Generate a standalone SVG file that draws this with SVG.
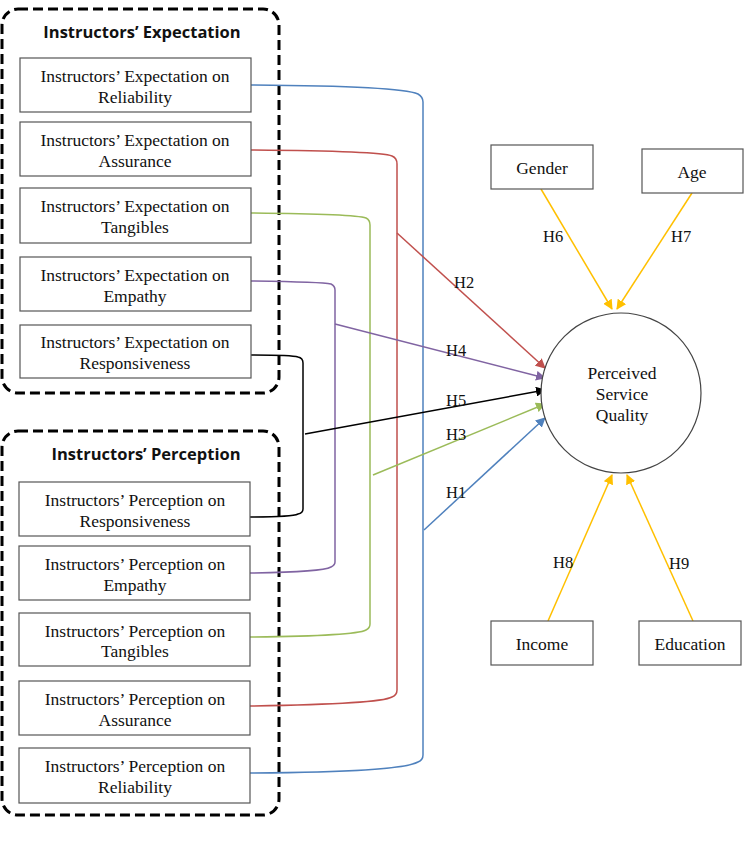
<svg xmlns="http://www.w3.org/2000/svg" width="747" height="846" viewBox="0 0 747 846">
<style>
.grp{fill:none;stroke:#000;stroke-width:3;stroke-dasharray:10 5}
.box{fill:#fff;stroke:#555;stroke-width:1.2}
.t{font-family:"Liberation Serif",serif;font-size:17.5px;fill:#111;text-anchor:middle}
.h{font-family:"Liberation Serif",serif;font-size:16.5px;fill:#111}
.ttl{font-family:"Open Sans","DejaVu Sans",sans-serif;font-weight:bold;font-size:16.5px;fill:#111;text-anchor:middle}
.c{fill:none;stroke-width:1.5}
</style>
<defs>
<marker id="ab" viewBox="0 0 10 10" refX="9" refY="5" markerWidth="10" markerHeight="10" orient="auto" markerUnits="userSpaceOnUse"><path d="M0,0L10,5L0,10z" fill="#4F81BD"/></marker>
<marker id="ar" viewBox="0 0 10 10" refX="9" refY="5" markerWidth="10" markerHeight="10" orient="auto" markerUnits="userSpaceOnUse"><path d="M0,0L10,5L0,10z" fill="#C0504D"/></marker>
<marker id="ag" viewBox="0 0 10 10" refX="9" refY="5" markerWidth="10" markerHeight="10" orient="auto" markerUnits="userSpaceOnUse"><path d="M0,0L10,5L0,10z" fill="#9BBB59"/></marker>
<marker id="ap" viewBox="0 0 10 10" refX="9" refY="5" markerWidth="10" markerHeight="10" orient="auto" markerUnits="userSpaceOnUse"><path d="M0,0L10,5L0,10z" fill="#8064A2"/></marker>
<marker id="ak" viewBox="0 0 10 10" refX="9" refY="5" markerWidth="10" markerHeight="10" orient="auto" markerUnits="userSpaceOnUse"><path d="M0,0L10,5L0,10z" fill="#000"/></marker>
<marker id="ay" viewBox="0 0 10 10" refX="9" refY="5" markerWidth="10" markerHeight="10" orient="auto" markerUnits="userSpaceOnUse"><path d="M0,0L10,5L0,10z" fill="#FFC000"/></marker>
</defs>
<rect width="747" height="846" fill="#fff"/>

<g id="expectation-group">
<rect class="grp" x="2" y="9" width="277" height="384" rx="16"/>
<text class="ttl" x="142" y="38">Instructors’ Expectation</text>
</g>
<g id="perception-group">
<rect class="grp" x="2" y="431" width="277" height="384" rx="16"/>
<text class="ttl" x="146" y="460">Instructors’ Perception</text>
</g>

<g id="connectors">
<path class="c" stroke="#4F81BD" d="M251,85 Q400,86 418,94 Q423,97 423,102 L423,755 Q423,760 418,762 Q400,772 250,773"/>
<path class="c" stroke="#4F81BD" d="M424,530 L545,418" marker-end="url(#ab)"/>
<path class="c" stroke="#C0504D" d="M251,150 Q380,151 392,156 Q397,158 397,164 L397,690 Q397,695 392,697 Q380,704 250,706"/>
<path class="c" stroke="#C0504D" d="M397,233 L545,368" marker-end="url(#ar)"/>
<path class="c" stroke="#9BBB59" d="M251,213 Q355,214 366,218 Q370,220 370,225 L370,624 Q370,628 366,630 Q355,636 250,637"/>
<path class="c" stroke="#9BBB59" d="M373,475 L545,404" marker-end="url(#ag)"/>
<path class="c" stroke="#8064A2" d="M251,281 Q322,282 331,284 Q335,286 335,290 L335,562 Q335,565 331,567 Q322,572 250,573"/>
<path class="c" stroke="#8064A2" d="M335,324 L545,378" marker-end="url(#ap)"/>
<path class="c" stroke="#000" d="M251,355 Q292,355 298,357 Q303,358 303,363 L303,509 Q303,513 298,514 Q292,517 250,517"/>
<path class="c" stroke="#000" d="M305,434 L545,390" marker-end="url(#ak)"/>
<path class="c" stroke="#FFC000" d="M541,189 L612,309" marker-end="url(#ay)"/>
<path class="c" stroke="#FFC000" d="M692,193 L617,309" marker-end="url(#ay)"/>
<path class="c" stroke="#FFC000" d="M548,621 L612,475" marker-end="url(#ay)"/>
<path class="c" stroke="#FFC000" d="M693,621 L627,475" marker-end="url(#ay)"/>
<text class="h" x="454" y="288">H2</text>
<text class="h" x="446" y="356">H4</text>
<text class="h" x="446" y="406">H5</text>
<text class="h" x="446" y="440">H3</text>
<text class="h" x="446" y="498">H1</text>
<text class="h" x="543" y="242">H6</text>
<text class="h" x="671" y="242">H7</text>
<text class="h" x="553" y="568">H8</text>
<text class="h" x="669" y="569">H9</text>
</g>

<g id="e1"><rect class="box" x="20" y="58" width="231" height="54"/><text class="t" x="135" y="82">Instructors’ Expectation on</text><text class="t" x="135" y="103">Reliability</text></g>
<g id="e2"><rect class="box" x="20" y="122" width="231" height="54"/><text class="t" x="135" y="146">Instructors’ Expectation on</text><text class="t" x="135" y="167">Assurance</text></g>
<g id="e3"><rect class="box" x="20" y="188" width="231" height="55"/><text class="t" x="135" y="212">Instructors’ Expectation on</text><text class="t" x="135" y="233">Tangibles</text></g>
<g id="e4"><rect class="box" x="20" y="257" width="231" height="54"/><text class="t" x="135" y="281">Instructors’ Expectation on</text><text class="t" x="135" y="302">Empathy</text></g>
<g id="e5"><rect class="box" x="20" y="325" width="231" height="53"/><text class="t" x="135" y="348">Instructors’ Expectation on</text><text class="t" x="135" y="369">Responsiveness</text></g>

<g id="p1"><rect class="box" x="19" y="482" width="231" height="54"/><text class="t" x="135" y="506">Instructors’ Perception on</text><text class="t" x="135" y="527">Responsiveness</text></g>
<g id="p2"><rect class="box" x="19" y="546" width="231" height="54"/><text class="t" x="135" y="570">Instructors’ Perception on</text><text class="t" x="135" y="591">Empathy</text></g>
<g id="p3"><rect class="box" x="19" y="613" width="231" height="53"/><text class="t" x="135" y="637">Instructors’ Perception on</text><text class="t" x="135" y="657">Tangibles</text></g>
<g id="p4"><rect class="box" x="19" y="681" width="231" height="54"/><text class="t" x="135" y="705">Instructors’ Perception on</text><text class="t" x="135" y="726">Assurance</text></g>
<g id="p5"><rect class="box" x="19" y="748" width="231" height="55"/><text class="t" x="135" y="772">Instructors’ Perception on</text><text class="t" x="135" y="793">Reliability</text></g>

<g id="psq"><circle cx="621" cy="393" r="80" fill="#fff" stroke="#444" stroke-width="1.2"/><text class="t" x="622" y="379">Perceived</text><text class="t" x="622" y="400">Service</text><text class="t" x="622" y="421">Quality</text></g>
<g id="gender"><rect class="box" x="491" y="145" width="102" height="44"/><text class="t" x="542" y="174">Gender</text></g>
<g id="age"><rect class="box" x="642" y="149" width="101" height="44"/><text class="t" x="692" y="178">Age</text></g>
<g id="income"><rect class="box" x="491" y="621" width="102" height="44"/><text class="t" x="542" y="650">Income</text></g>
<g id="education"><rect class="box" x="639" y="621" width="102" height="44"/><text class="t" x="690" y="650">Education</text></g>
</svg>
